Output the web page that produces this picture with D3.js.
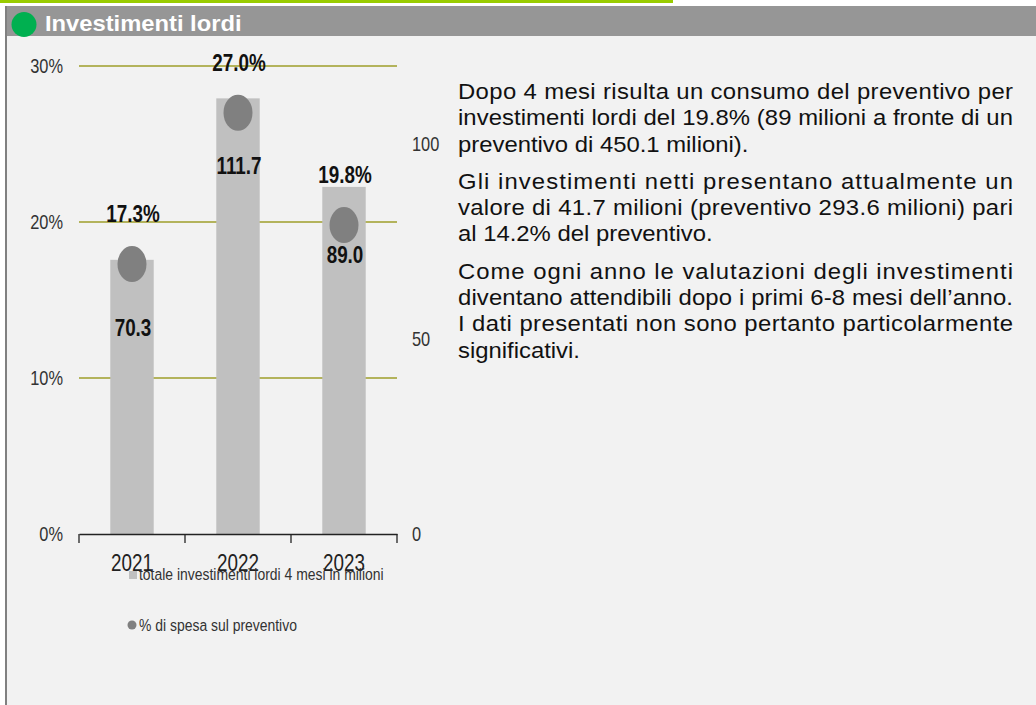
<!DOCTYPE html>
<html>
<head>
<meta charset="utf-8">
<script src="https://cdn.jsdelivr.net/npm/d3@7"></script>
<style>
  html, body { margin: 0; padding: 0; background: #fff; }
  svg { display: block; }
</style>
</head>
<body>
<div id="chart"></div>
<script>
// Data
var years = ['2021', '2022', '2023'];
var totals = [70.3, 111.7, 89.0];
var pcts = [17.3, 27.0, 19.8];
var leftTicks = [0, 10, 20, 30];
var rightTicks = [0, 50, 100];
var title = 'Investimenti lordi';
var legendLabels = ['totale investimenti lordi 4 mesi in milioni', '% di spesa sul preventivo'];
var paragraphs = [
  ['Dopo 4 mesi risulta un consumo del preventivo per',
   'investimenti lordi del 19.8% (89 milioni a fronte di un',
   'preventivo di 450.1 milioni).'],
  ['Gli investimenti netti presentano attualmente un',
   'valore di 41.7 milioni (preventivo 293.6 milioni) pari',
   'al 14.2% del preventivo.'],
  ['Come ogni anno le valutazioni degli investimenti',
   'diventano attendibili dopo i primi 6-8 mesi dell\u2019anno.',
   'I dati presentati non sono pertanto particolarmente',
   'significativi.']
];

var width = 1036, height = 705;
var sans = '"Liberation Sans", Arial, sans-serif';
var nx = 0.82; // horizontal squeeze to mimic Arial Narrow

var svg = d3.select('#chart').append('svg')
  .attr('width', width)
  .attr('height', height);

// narrow text placed at (px, py)
function narrow(sel, px, py) {
  sel.attr('x', 0).attr('y', 0)
    .attr('font-family', sans)
    .attr('transform', function (d, i) {
      var a = typeof px === 'function' ? px(d, i) : px;
      var b = typeof py === 'function' ? py(d, i) : py;
      return 'translate(' + a + ',' + b + ') scale(' + nx + ',1)';
    });
  return sel;
}

// Frame: green top line, grey header, light body, left border.
svg.append('rect').attr('x', 6).attr('y', 6).attr('width', width - 6).attr('height', height - 6).attr('fill', '#f2f2f2');
svg.append('rect').attr('x', 0).attr('y', 0).attr('width', 673).attr('height', 3).attr('fill', '#99cc00');
svg.append('rect').attr('x', 5).attr('y', 6).attr('width', width - 5).attr('height', 30).attr('fill', '#969696');
svg.append('rect').attr('x', 5).attr('y', 6).attr('width', 2).attr('height', height - 6).attr('fill', '#808080');
svg.append('circle').attr('cx', 24).attr('cy', 24.5).attr('r', 12.5).attr('fill', '#00b050');
svg.append('text')
  .attr('transform', 'translate(45,31) scale(1.08,1)')
  .attr('font-family', sans).attr('font-weight', 'bold').attr('font-size', 22)
  .attr('fill', '#fff')
  .text(title);

// Scales
var x = d3.scaleBand().domain(years).range([79, 397]).padding(0);
var yL = d3.scaleLinear().domain([0, 30]).range([534, 66]);
var yR = d3.scaleLinear().domain([0, 120]).range([534, 66]);
var barW = x.bandwidth() * 0.41;
var cx = function (d) { return x(d) + x.bandwidth() / 2; };

// Gridlines
svg.append('g').selectAll('line')
  .data(leftTicks.filter(function (d) { return d > 0; }))
  .enter().append('line')
  .attr('x1', 79).attr('x2', 397)
  .attr('y1', function (d) { return yL(d); })
  .attr('y2', function (d) { return yL(d); })
  .attr('stroke', '#9e9e2a').attr('stroke-width', 1.5);

// Left axis
var gL = svg.append('g').attr('transform', 'translate(79,0)')
  .call(d3.axisLeft(yL).tickValues(leftTicks).tickFormat(function (d) { return d + '%'; }).tickSize(0).tickPadding(16));
gL.select('.domain').remove();
gL.selectAll('text').attr('font-family', sans).attr('font-size', 20).attr('fill', '#333')
  .attr('x', -16 / nx).attr('transform', 'scale(' + nx + ',1)');

// Right axis
var gR = svg.append('g').attr('transform', 'translate(397,0)')
  .call(d3.axisRight(yR).tickValues(rightTicks).tickSize(0).tickPadding(15));
gR.select('.domain').remove();
gR.selectAll('text').attr('font-family', sans).attr('font-size', 20).attr('fill', '#333')
  .attr('x', 15 / nx).attr('transform', 'scale(' + nx + ',1)');

// Bars
svg.append('g').selectAll('rect')
  .data(years)
  .enter().append('rect')
  .attr('x', function (d) { return cx(d) - barW / 2; })
  .attr('y', function (d, i) { return yR(totals[i]); })
  .attr('width', barW)
  .attr('height', function (d, i) { return yR(0) - yR(totals[i]); })
  .attr('fill', '#c0c0c0');

// Bottom axis
var gB = svg.append('g').attr('transform', 'translate(0,534)')
  .call(d3.axisBottom(x).tickSize(0).tickPadding(21));
gB.select('.domain').attr('stroke', '#222').attr('stroke-width', 1.3);
gB.selectAll('text').attr('font-family', sans).attr('font-size', 23).attr('fill', '#222')
  .attr('transform', 'scale(' + nx + ',1)');
gB.selectAll('.sep')
  .data([79].concat(years.map(function (d) { return x(d) + x.bandwidth(); })))
  .enter().append('line')
  .attr('x1', function (d) { return d; }).attr('x2', function (d) { return d; })
  .attr('y1', 0).attr('y2', 9)
  .attr('stroke', '#222').attr('stroke-width', 1.3);

// Dots
svg.append('g').selectAll('ellipse')
  .data(years)
  .enter().append('ellipse')
  .attr('cx', cx)
  .attr('cy', function (d, i) { return yL(pcts[i]); })
  .attr('rx', 14.5).attr('ry', 18)
  .attr('fill', '#808080');

// Value labels
narrow(svg.append('g').selectAll('text')
  .data(years)
  .enter().append('text'),
  function (d) { return cx(d) + 1; },
  function (d, i) { return yR(totals[i]) + 76; })
  .attr('text-anchor', 'middle')
  .attr('font-weight', 'bold').attr('font-size', 23)
  .attr('fill', '#111')
  .text(function (d, i) { return totals[i].toFixed(1); });

narrow(svg.append('g').selectAll('text')
  .data(years)
  .enter().append('text'),
  function (d) { return cx(d) + 1; },
  function (d, i) { return yL(pcts[i]) - 42; })
  .attr('text-anchor', 'middle')
  .attr('font-weight', 'bold').attr('font-size', 23)
  .attr('fill', '#111')
  .text(function (d, i) { return pcts[i].toFixed(1) + '%'; });

// Legend
svg.append('rect').attr('x', 129).attr('y', 571).attr('width', 8).attr('height', 8).attr('fill', '#c0c0c0');
narrow(svg.append('text'), 139, 580)
  .attr('font-size', 17).attr('fill', '#333')
  .text(legendLabels[0]);
svg.append('circle').attr('cx', 132).attr('cy', 625).attr('r', 4.5).attr('fill', '#808080');
narrow(svg.append('text'), 139, 631)
  .attr('font-size', 17).attr('fill', '#333')
  .text(legendLabels[1]);

// Paragraph text, justified
var sx = 1.11, left = 458, right = 1013;
var textG = svg.append('g').attr('transform', 'translate(' + left + ',0) scale(' + sx + ',1)');
var baseY = 99, lineH = 26.3, paraGap = 11;
var yPos = baseY;
paragraphs.forEach(function (para) {
  para.forEach(function (line, i) {
    var t = textG.append('text')
      .attr('x', 0).attr('y', yPos)
      .attr('font-family', sans).attr('font-size', 21.5).attr('fill', '#111')
      .text(line);
    if (i < para.length - 1) {
      t.attr('textLength', (right - left) / sx).attr('lengthAdjust', 'spacing');
    }
    yPos += lineH;
  });
  yPos += paraGap;
});
</script>
</body>
</html>
